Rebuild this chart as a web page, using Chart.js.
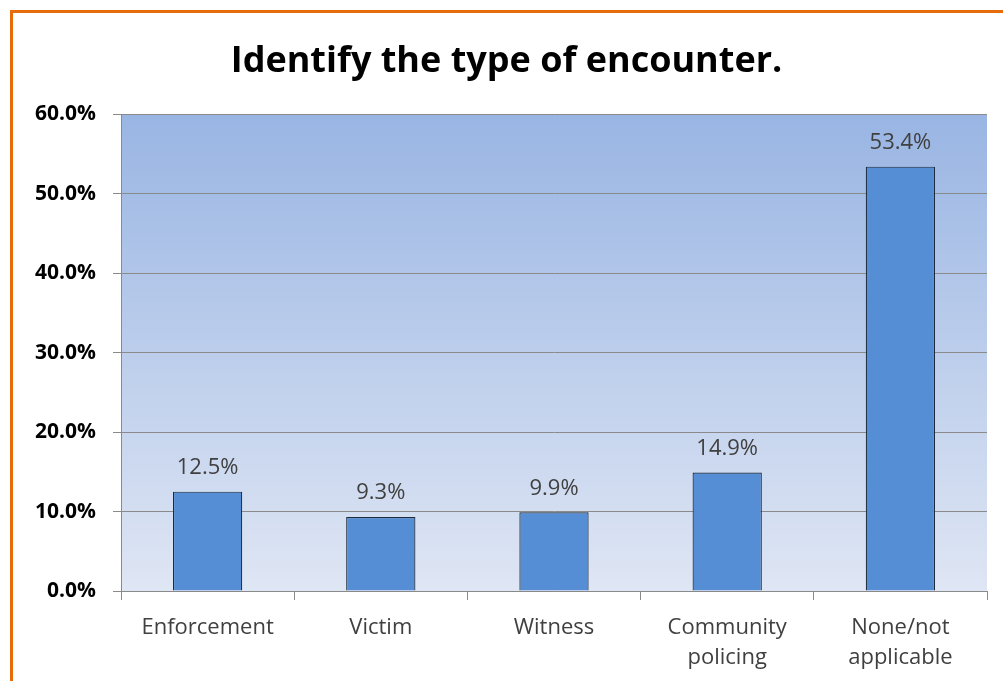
<!DOCTYPE html>
<html>
<head>
<meta charset="utf-8">
<script src="https://cdn.jsdelivr.net/npm/chart.js"></script>
<style>
body{
	margin:0;
	background:#fff;
	overflow:hidden;
}
.frame{
	position:absolute;
	left:10px; top:10px;
	width:1010px; height:700px;
	border:3px solid #e46c0a;
	box-sizing:border-box;
}
.wrap{
	position:absolute;
	left:0; top:0;
	width:1003px; height:681px;
}
</style>
</head>
<body>
<div class="frame"></div>
<div class="wrap"><canvas id="barChart" width="1003" height="681"></canvas></div>

<script>
var categories = ["Enforcement", "Victim", "Witness", ["Community", "policing"], ["None/not", "applicable"]];
var values = [12.5, 9.3, 9.9, 14.9, 53.4];
var yTicks = [0, 10, 20, 30, 40, 50, 60];

// gradient fill behind the plot area
var plotBackground = {
	id: "plotBackground",
	beforeDraw: function (chart) {
		var a = chart.chartArea;
		var ctx = chart.ctx;
		var g = ctx.createLinearGradient(0, a.top, 0, a.bottom);
		g.addColorStop(0, "#99b5e3");
		g.addColorStop(1, "#dfe6f4");
		ctx.save();
		ctx.fillStyle = g;
		ctx.fillRect(a.left, a.top, a.right - a.left, a.bottom - a.top);
		ctx.restore();
	}
};

// value labels above bars
var valueLabels = {
	id: "valueLabels",
	afterDatasetsDraw: function (chart) {
		var ctx = chart.ctx;
		var meta = chart.getDatasetMeta(0);
		ctx.save();
		ctx.font = "22px 'Open Sans'";
		ctx.fillStyle = "#404040";
		ctx.textAlign = "center";
		ctx.textBaseline = "middle";
		meta.data.forEach(function (bar, i) {
			ctx.fillText(values[i].toFixed(1) + "%", bar.x, bar.y - 24);
		});
		ctx.restore();
	}
};

new Chart(document.getElementById("barChart"), {
	type: "bar",
	data: {
		labels: categories,
		datasets: [{
			data: values,
			backgroundColor: "#558ed5",
			borderColor: "#1c2b3c",
			borderWidth: 1.2,
			barPercentage: 0.4,
			categoryPercentage: 1
		}]
	},
	options: {
		responsive: false,
		animation: false,
		layout: { padding: { left: 26, right: 16, top: 0, bottom: 0 } },
		plugins: {
			legend: { display: false },
			tooltip: { enabled: false },
			title: {
				display: true,
				text: "Identify the type of encounter.",
				color: "#000",
				font: { family: "Open Sans", size: 36, weight: "bold" },
				padding: { top: 40, bottom: 31 }
			}
		},
		scales: {
			x: {
				offset: true,
				grid: {
					offset: true,
					drawOnChartArea: false,
					drawTicks: true,
					tickLength: 9,
					color: "#8a8a8a"
				},
				border: { color: "#8a8a8a" },
				ticks: {
					color: "#404040",
					font: { family: "Open Sans", size: 22, lineHeight: 1.4 },
					padding: 12,
					maxRotation: 0
				},
				afterFit: function (scale) { scale.height = 90; }
			},
			y: {
				min: 0,
				max: 60,
				afterBuildTicks: function (scale) {
					scale.ticks = yTicks.map(function (v) { return { value: v }; });
				},
				grid: {
					color: "#8a8a8a",
					tickLength: 8
				},
				border: { color: "#8a8a8a" },
				ticks: {
					color: "#000",
					font: { family: "Open Sans", size: 21, weight: "bold" },
					padding: 17,
					callback: function (v) { return v.toFixed(1) + "%"; }
				},
				afterFit: function (scale) { scale.width = 95; }
			}
		}
	},
	plugins: [plotBackground, valueLabels]
});
</script>
</body>
</html>
